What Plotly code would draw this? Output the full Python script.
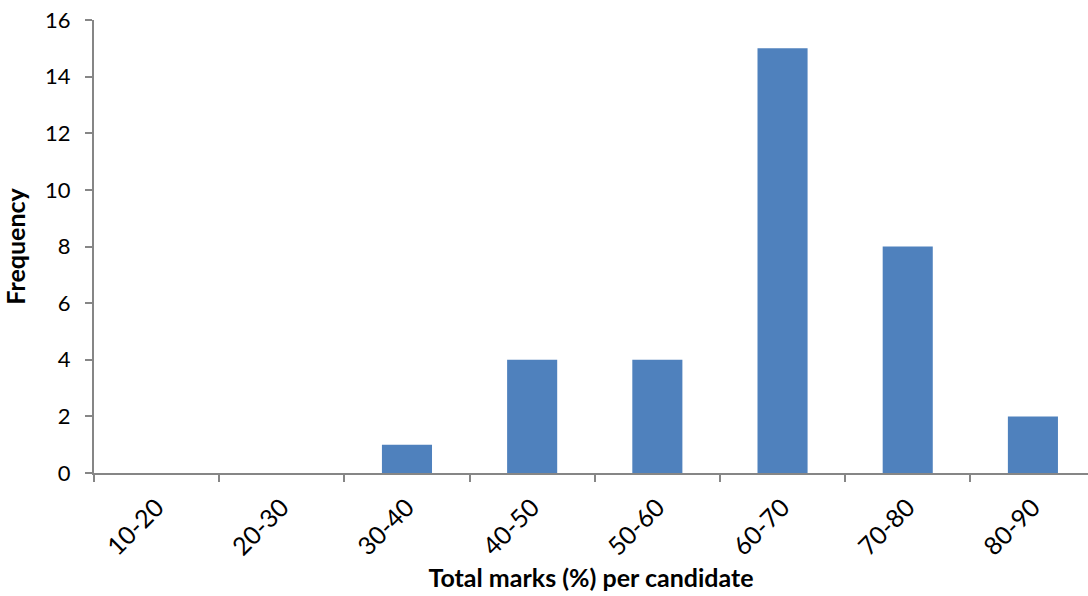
import plotly.graph_objects as go

categories = ["10-20", "20-30", "30-40", "40-50", "50-60", "60-70", "70-80", "80-90"]
frequency = [0, 0, 1, 4, 4, 15, 8, 2]
y_ticks = [0, 2, 4, 6, 8, 10, 12, 14, 16]

fig = go.Figure(go.Bar(
    x=categories, y=frequency,
    marker=dict(color="#4F81BD", line=dict(width=0)),
    width=0.4,
))

font_family = "Lato, 'Open Sans', sans-serif"
fig.update_layout(
    width=1088, height=596,
    margin=dict(l=94, r=0, t=20, b=123),
    plot_bgcolor="white", paper_bgcolor="white",
    showlegend=False,
    font=dict(family=font_family, size=22, color="#000000"),
)
fig.update_xaxes(
    type="category",
    range=[-0.5, 7.44],
    tickson="boundaries",
    ticks="outside", ticklen=7, tickwidth=2, tickcolor="#868686",
    showline=True, linecolor="#868686", linewidth=2,
    tickangle=-45,
    tickfont=dict(size=25),
    ticklabelstandoff=8,
    title=dict(text="<b>Total marks (%) per candidate</b>", font=dict(size=25), standoff=10),
    showgrid=False,
)
fig.update_yaxes(
    range=[0, 16],
    tickvals=y_ticks,
    ticks="outside", ticklen=7, tickwidth=2, tickcolor="#868686",
    showline=True, linecolor="#868686", linewidth=2,
    tickfont=dict(size=22),
    ticklabelstandoff=10,
    title=dict(text="<b>Frequency</b>", font=dict(size=25), standoff=12),
    showgrid=False, zeroline=False,
)

fig.write_html("out.html")
